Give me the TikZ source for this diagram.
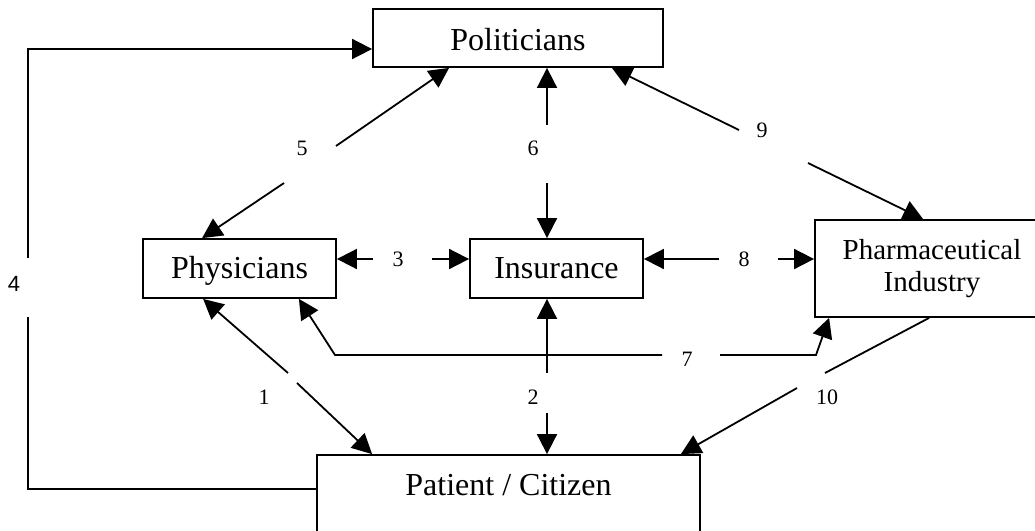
\documentclass[tikz,border=0pt]{standalone}
\usepackage{fontspec}
\setmainfont{Liberation Serif}
\newfontfamily\numsans{Liberation Sans}
\usetikzlibrary{arrows.meta,calc}
\begin{document}
\begin{tikzpicture}[x=1pt,y=-1pt,
  box/.style={draw, line width=1.8pt, inner sep=0pt, font=\fontsize{32}{34}\selectfont},
  num/.style={inner sep=0pt, font=\fontsize{22}{24}\selectfont},
  con/.style={line width=1.8pt},
  tip/.style={con, -{Triangle[length=20pt,width=20pt]}}
]
\useasboundingbox (0,0) rectangle (1035,530);
\clip (0,0) rectangle (1035,530);

\node[box, anchor=base, minimum width=290pt, text height=41pt, text depth=17pt] (pol) at (518,50) {Politicians};
\node[box, anchor=base, minimum width=193pt, text height=39pt, text depth=20pt] (phy) at (239.5,278) {Physicians};
\node[box, anchor=base, minimum width=173pt, text height=39pt, text depth=20pt] (ins) at (556.5,278) {Insurance};
\node[box, minimum width=234pt, minimum height=97pt, align=center, font=\fontsize{29}{32}\selectfont] (pha) at (932,268.5) {Pharmaceutical\\Industry};
\node[box, anchor=base, minimum width=383pt, text height=40pt, text depth=65pt] (pat) at (508.5,495) {Patient / Citizen};

% 4
\coordinate (c4bot) at (28,489);
\coordinate (c4a) at (28,317);
\coordinate (c4b) at (28,258);
\coordinate (c4top) at (28,49);
\draw[con] (c4bot -| pat.west) -- (c4bot) -- (c4a);
\draw[tip] (c4b) -- (c4top) -- (c4top -| pol.west);
\node[num, font=\numsans\fontsize{22}{24}\selectfont] (n4) at (14,284) {4};

% 5
\coordinate (c5a) at (336,146);
\coordinate (c5b) at (284,183);
\draw[tip] (c5a) -- ($(pol.south west)+(77,0)$);
\draw[tip] (c5b) -- ($(phy.north west)+(60,0)$);
\node[num] (n5) at (302,148) {5};

% 6
\coordinate (c6a) at (547,125);
\coordinate (c6b) at (547,183);
\draw[tip] (c6a) -- (c6a |- pol.south);
\draw[tip] (c6b) -- (c6b |- ins.north);
\node[num] (n6) at (533,148) {6};

% 9
\coordinate (c9a) at (739,130);
\coordinate (c9b) at (808,163);
\draw[tip] (c9a) -- ($(pol.south east)+(-52,0)$);
\draw[tip] (c9b) -- ($(pha.north west)+(109,0)$);
\node[num] (n9) at (762,130) {9};

% 3
\coordinate (c3a) at (373,259);
\coordinate (c3b) at (432,259);
\draw[tip] (c3a) -- (c3a -| phy.east);
\draw[tip] (c3b) -- (c3b -| ins.west);
\node[num] (n3) at (398,259) {3};

% 8
\coordinate (c8a) at (719,259);
\coordinate (c8b) at (778,259);
\draw[tip] (c8a) -- (c8a -| ins.east);
\draw[tip] (c8b) -- (c8b -| pha.west);
\node[num] (n8) at (744,259) {8};

% 1
\coordinate (c1a) at (288,373);
\coordinate (c1b) at (297,383);
\draw[tip] (c1a) -- ($(phy.south west)+(61,0)$);
\draw[tip] (c1b) -- ($(pat.north west)+(56,0)$);
\node[num] (n1) at (264,397) {1};

% 7
\coordinate (c7a) at (662,355);
\coordinate (c7k) at (335,355);
\coordinate (c7b) at (720,355);
\coordinate (c7m) at (816,355);
\draw[tip] (c7a) -- (c7k) -- ($(phy.south east)+(-38,0)$);
\draw[tip] (c7b) -- (c7m) -- ($(pha.south west)+(15,0)$);
\node[num] (n7) at (687,359) {7};

% 2
\coordinate (c2a) at (547,373);
\coordinate (c2b) at (547,413);
\draw[tip] (c2a) -- (c2a |- ins.south);
\draw[tip] (c2b) -- (c2b |- pat.north);
\node[num] (n2) at (533,397) {2};

% 10
\coordinate (c10a) at (825,373);
\coordinate (c10b) at (797,388);
\draw[con] ($(pha.south west)+(115,0)$) -- (c10a);
\draw[tip] (c10b) -- ($(pat.north east)+(-20,0)$);
\node[num] (n10) at (827,397) {10};
\end{tikzpicture}
\end{document}
